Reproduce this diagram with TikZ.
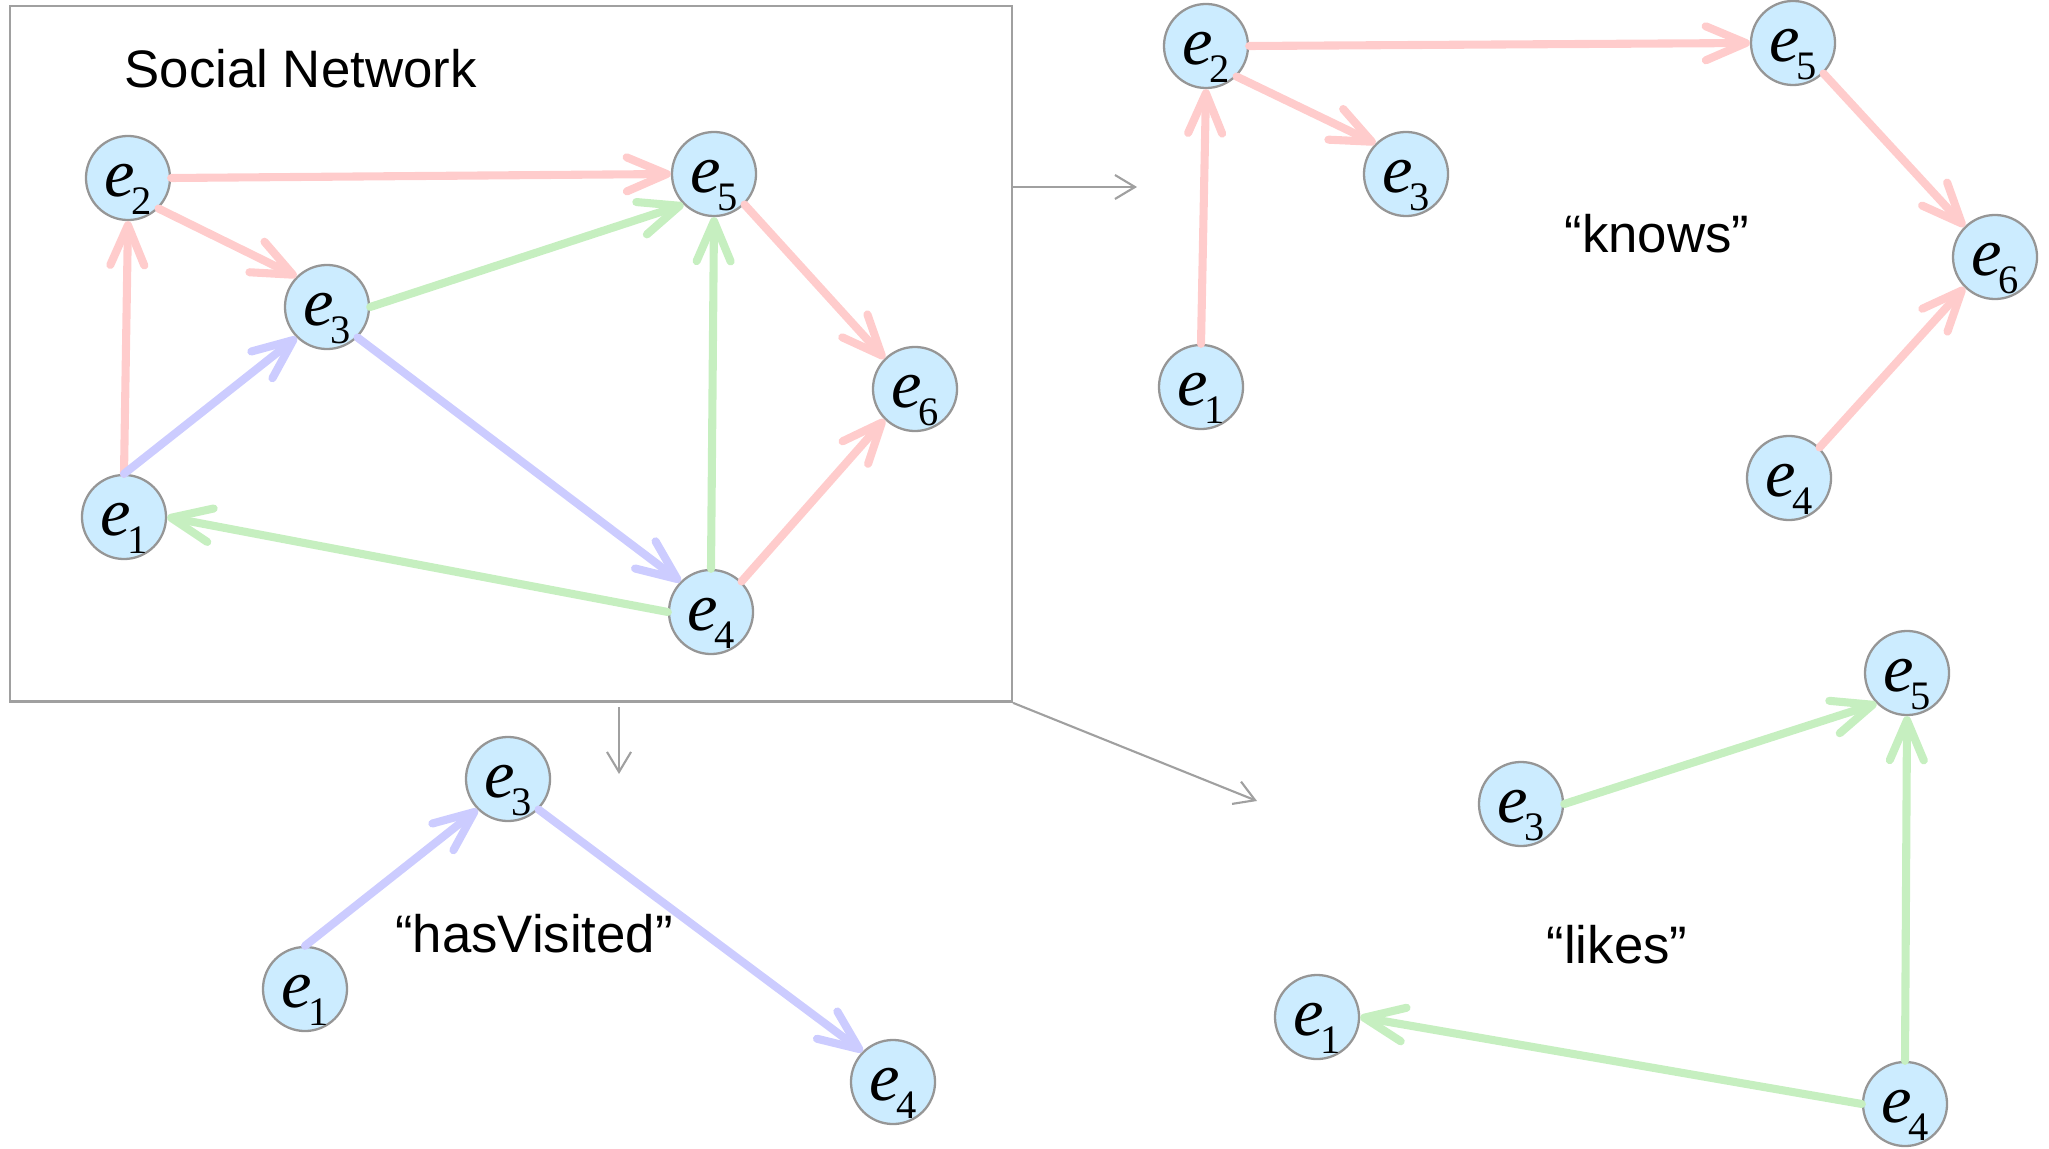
\documentclass[tikz,border=0pt]{standalone}
\usepackage{fontspec}
\setmainfont{Liberation Serif}
\newfontfamily\labelfont{Liberation Sans}
\usetikzlibrary{arrows.meta}

\definecolor{knowsc}{RGB}{255,204,204}
\definecolor{likesc}{RGB}{198,239,192}
\definecolor{visitc}{RGB}{204,204,255}
\definecolor{entfill}{RGB}{204,236,255}
\definecolor{entline}{RGB}{150,150,150}
\definecolor{framec}{RGB}{160,160,160}

% entity label: italic e with a lowered upright index
\newcommand\ent[1]{{\fontsize{19.5}{19.5}\selectfont\itshape e}\kern-0.035cm\smash{\raisebox{-0.18cm}{\fontsize{11.5}{11.5}\selectfont #1}}}

\begin{document}
\begin{tikzpicture}[x=0.01cm, y=-0.01cm,
  ent/.style={circle, draw=entline, line width=0.65pt, fill=entfill,
    minimum size=0.84cm, inner sep=0pt, text height=0.36cm, text depth=0pt},
  rel/.style={line width=2.3pt, line cap=round,
    -{Straight Barb[length=0.40cm, width=0.34cm, round]}},
  knows/.style={rel, draw=knowsc},
  likes/.style={rel, draw=likesc},
  visits/.style={rel, draw=visitc},
  flow/.style={draw=framec, line width=0.6pt,
    -{Straight Barb[length=0.2cm, width=0.24cm]}},
  caption/.style={font=\labelfont\fontsize{15}{18}\selectfont, inner sep=0pt, anchor=base}
]
\useasboundingbox (0,0) rectangle (2049,1149);

% ---------- full social network ----------
\node[draw=framec, line width=0.7pt, minimum width=10.01cm, minimum height=6.95cm,
  inner sep=0pt, anchor=north west] (sn) at (9,5) {};
\node[caption, anchor=base west] (title) at (124,88) {Social Network};

\node[ent] (a2) at (128,178) {\ent{2}};
\node[ent] (a3) at (327,307) {\ent{3}};
\node[ent] (a5) at (714,174) {\ent{5}};
\node[ent] (a6) at (915,389) {\ent{6}};
\node[ent] (a1) at (124,517) {\ent{1}};
\node[ent] (a4) at (711,612) {\ent{4}};

\draw[knows] (a1.north) -- (a2.south);
\draw[knows] (a2.east) -- (a5.west);
\draw[knows] (a2.south east) -- (a3.north west);
\draw[knows] (a5.south east) -- (a6.north west);
\draw[knows] (a4.north east) -- (a6.south west);
\draw[likes] (a3.east) -- (a5.south west);
\draw[likes] (a4.north) -- (a5.south);
\draw[likes] (a4.west) -- (a1.east);
\draw[visits] (a1.north) -- (a3.south west);
\draw[visits] (a3.south east) -- (a4.north west);

% ---------- projections ----------
\coordinate (toKnows) at (1137,187);
\coordinate (belowBox) at (619,707);
\coordinate (toVisits) at (619,774);
\coordinate (toLikes) at (1257,801);
\draw[flow] (sn.east |- toKnows) -- (toKnows);
\draw[flow] (belowBox) -- (toVisits);
\draw[flow] (sn.south east) -- (toLikes);

% ---------- "knows" ----------
\node[ent] (k2) at (1206,46) {\ent{2}};
\node[ent] (k3) at (1406,174) {\ent{3}};
\node[ent] (k5) at (1793,43) {\ent{5}};
\node[ent] (k6) at (1995,257) {\ent{6}};
\node[ent] (k1) at (1201,387) {\ent{1}};
\node[ent] (k4) at (1789,478) {\ent{4}};
\node[caption] (knowsL) at (1657,253) {“knows”};

\draw[knows] (k1.north) -- (k2.south);
\draw[knows] (k2.south east) -- (k3.north west);
\draw[knows] (k2.east) -- (k5.west);
\draw[knows] (k5.south east) -- (k6.north west);
\draw[knows] (k4.north east) -- (k6.south west);

% ---------- "hasVisited" ----------
\node[ent] (v3) at (508,779) {\ent{3}};
\node[ent] (v1) at (305,989) {\ent{1}};
\node[ent] (v4) at (893,1082) {\ent{4}};
\node[caption] (visitL) at (534,952) {“hasVisited”};

\draw[visits] (v1.north) -- (v3.south west);
\draw[visits] (v3.south east) -- (v4.north west);

% ---------- "likes" ----------
\node[ent] (l5) at (1907,673) {\ent{5}};
\node[ent] (l3) at (1521,804) {\ent{3}};
\node[ent] (l1) at (1317,1017) {\ent{1}};
\node[ent] (l4) at (1905,1104) {\ent{4}};
\node[caption] (likesL) at (1617,963) {“likes”};

\draw[likes] (l3.east) -- (l5.south west);
\draw[likes] (l4.north) -- (l5.south);
\draw[likes] (l4.west) -- (l1.east);
\end{tikzpicture}
\end{document}
